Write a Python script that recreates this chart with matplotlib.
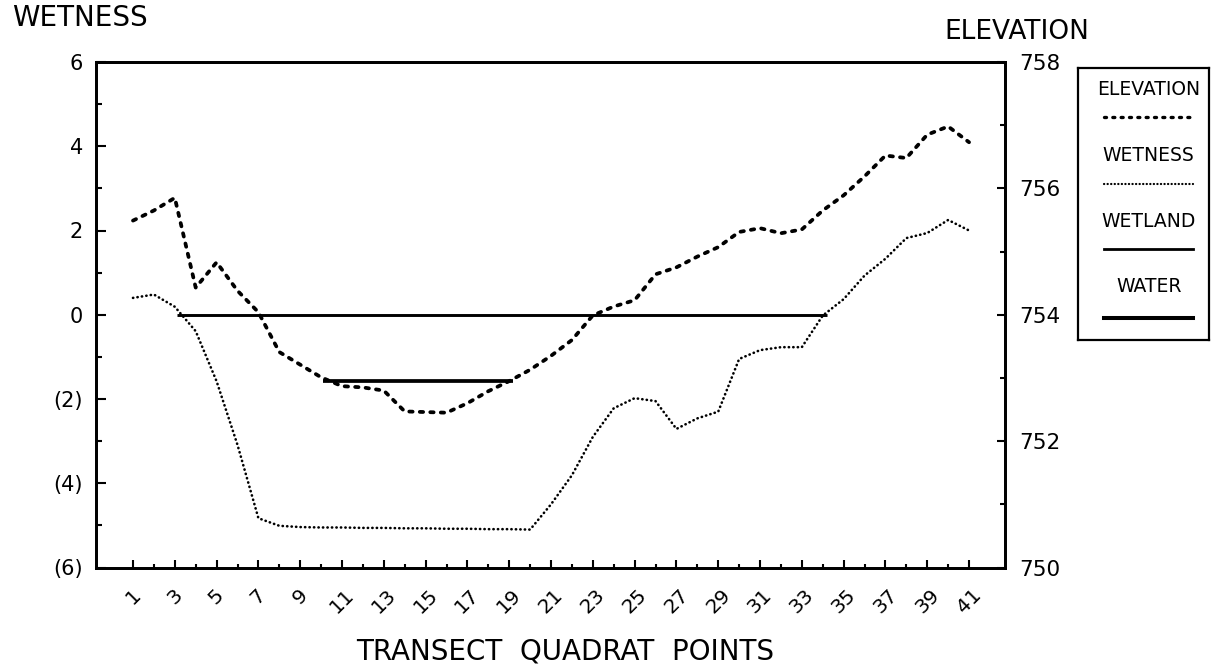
import matplotlib
matplotlib.use("Agg")
import matplotlib.pyplot as plt
from matplotlib.ticker import FixedLocator, NullLocator
from matplotlib.lines import Line2D

# ---- data ----
points = list(range(1, 42))
elevation = [755.49, 755.65, 755.85, 754.43, 754.83, 754.38, 754.04, 753.41, 753.21, 753.01,
             752.87, 752.85, 752.80, 752.47, 752.46, 752.45, 752.60, 752.79, 752.95, 753.13,
             753.35, 753.60, 753.99, 754.13, 754.23, 754.64, 754.75, 754.92, 755.07, 755.31,
             755.37, 755.29, 755.35, 755.65, 755.89, 756.19, 756.52, 756.48, 756.85, 756.98,
             756.73]
wetness = [0.40, 0.48, 0.19, -0.39, -1.58, -3.09, -4.83, -5.01, -5.04, -5.05,
           -5.05, -5.06, -5.06, -5.07, -5.07, -5.08, -5.08, -5.09, -5.09, -5.10,
           -4.50, -3.81, -2.90, -2.22, -1.98, -2.05, -2.71, -2.46, -2.30, -1.05,
           -0.84, -0.77, -0.77, -0.02, 0.37, 0.93, 1.33, 1.82, 1.94, 2.25,
           2.00]
wetland_x = [3.1, 34.2]
wetland_elev = [754.0, 754.0]
water_x = [10.1, 19.2]
water_elev = [752.95, 752.95]

wet_ticks = [6, 4, 2, 0, -2, -4, -6]
wet_labels = ["6", "4", "2", "0", "(2)", "(4)", "(6)"]
wet_minor = [5, 3, 1, -1, -3, -5]
elev_ticks = [750, 752, 754, 756, 758]
elev_minor = [751, 753, 755, 757]
x_ticks = list(range(1, 42, 2))
x_minor = list(range(2, 42, 2))

plt.rcParams['font.family'] = ['DejaVu Sans']

fig = plt.figure(figsize=(12.12, 6.69), dpi=100)
ax = fig.add_axes([96 / 1212, 1 - 567.5 / 669, 909 / 1212, 505.5 / 669])
ax.set_xlim(-0.77, 42.72)
ax.set_ylim(-6, 6)
ax2 = ax.twinx()
ax2.set_ylim(750, 758)

# series
ax.plot(points, wetness, color='black', lw=1.9, linestyle=(0, (0.1, 1.6)),
        dash_capstyle='round')
ax2.plot(points, elevation, color='black', lw=2.7, linestyle=(0, (0.9, 1.9)),
         dash_capstyle='round')
ax2.plot(wetland_x, wetland_elev, color='black', lw=2.1, solid_capstyle='butt')
ax2.plot(water_x, water_elev, color='black', lw=2.7, solid_capstyle='butt')

# spines
for a in (ax, ax2):
    for s in a.spines.values():
        s.set_linewidth(2.0)

# left axis ticks
ax.yaxis.set_major_locator(FixedLocator(wet_ticks))
ax.set_yticklabels(wet_labels)
ax.yaxis.set_minor_locator(FixedLocator(wet_minor))
ax.tick_params(axis='y', which='major', direction='in', length=7, width=1.5,
               labelsize=15, pad=9.5, right=False)
ax.tick_params(axis='y', which='minor', direction='in', length=4.5, width=1.5, right=False)

# x axis ticks
ax.xaxis.set_major_locator(FixedLocator(x_ticks))
ax.set_xticklabels([str(v) for v in x_ticks], rotation=45, ha='center', va='top')
ax.xaxis.set_minor_locator(FixedLocator(x_minor))
ax.tick_params(axis='x', which='major', direction='in', length=6, width=1.5,
               labelsize=14.5, pad=13, top=False)
ax.tick_params(axis='x', which='minor', direction='in', length=3, width=1.5, top=False)

# right axis ticks
ax2.yaxis.set_major_locator(FixedLocator(elev_ticks))
ax2.set_yticklabels([str(v) for v in elev_ticks])
ax2.yaxis.set_minor_locator(FixedLocator(elev_minor))
ax2.tick_params(axis='y', which='major', direction='in', length=6, width=1.5,
                labelsize=15.5, pad=10)
ax2.tick_params(axis='y', which='minor', direction='in', length=3.5, width=1.5)

# titles / labels
fig.text(12 / 1212, 1 - 18.5 / 669, "WETNESS", fontsize=20, ha='left', va='center')
fig.text(1017 / 1212, 1 - 32 / 669, "ELEVATION", fontsize=19, ha='center', va='center')
fig.text(565 / 1212, 1 - 651.5 / 669, "TRANSECT  QUADRAT  POINTS", fontsize=20,
         ha='center', va='center')

# legend box (drawn manually: label above sample line)
lax = fig.add_axes([1078 / 1212, 1 - 340 / 669, 131 / 1212, 272 / 669])
lax.set_xlim(0, 1)
lax.set_ylim(0, 1)
lax.xaxis.set_major_locator(NullLocator())
lax.yaxis.set_major_locator(NullLocator())
for s in lax.spines.values():
    s.set_linewidth(1.6)
entries = [
    ("ELEVATION", dict(lw=2.4, linestyle=(0, (0.6, 1.9)), dash_capstyle='round')),
    ("WETNESS", dict(lw=1.6, linestyle=(0, (0.1, 1.5)), dash_capstyle='round')),
    ("WETLAND", dict(lw=2.0)),
    ("WATER", dict(lw=2.9)),
]
text_y = [0.921, 0.68, 0.434, 0.195]
line_y = [0.82, 0.574, 0.335, 0.081]
for (lab, style), ty, ly in zip(entries, text_y, line_y):
    lax.text(0.54, ty, lab, fontsize=13.5, ha='center', va='center')
    lax.add_line(Line2D([0.2, 0.88], [ly, ly], color='black', **style))

fig.savefig("out.png", dpi=100)
